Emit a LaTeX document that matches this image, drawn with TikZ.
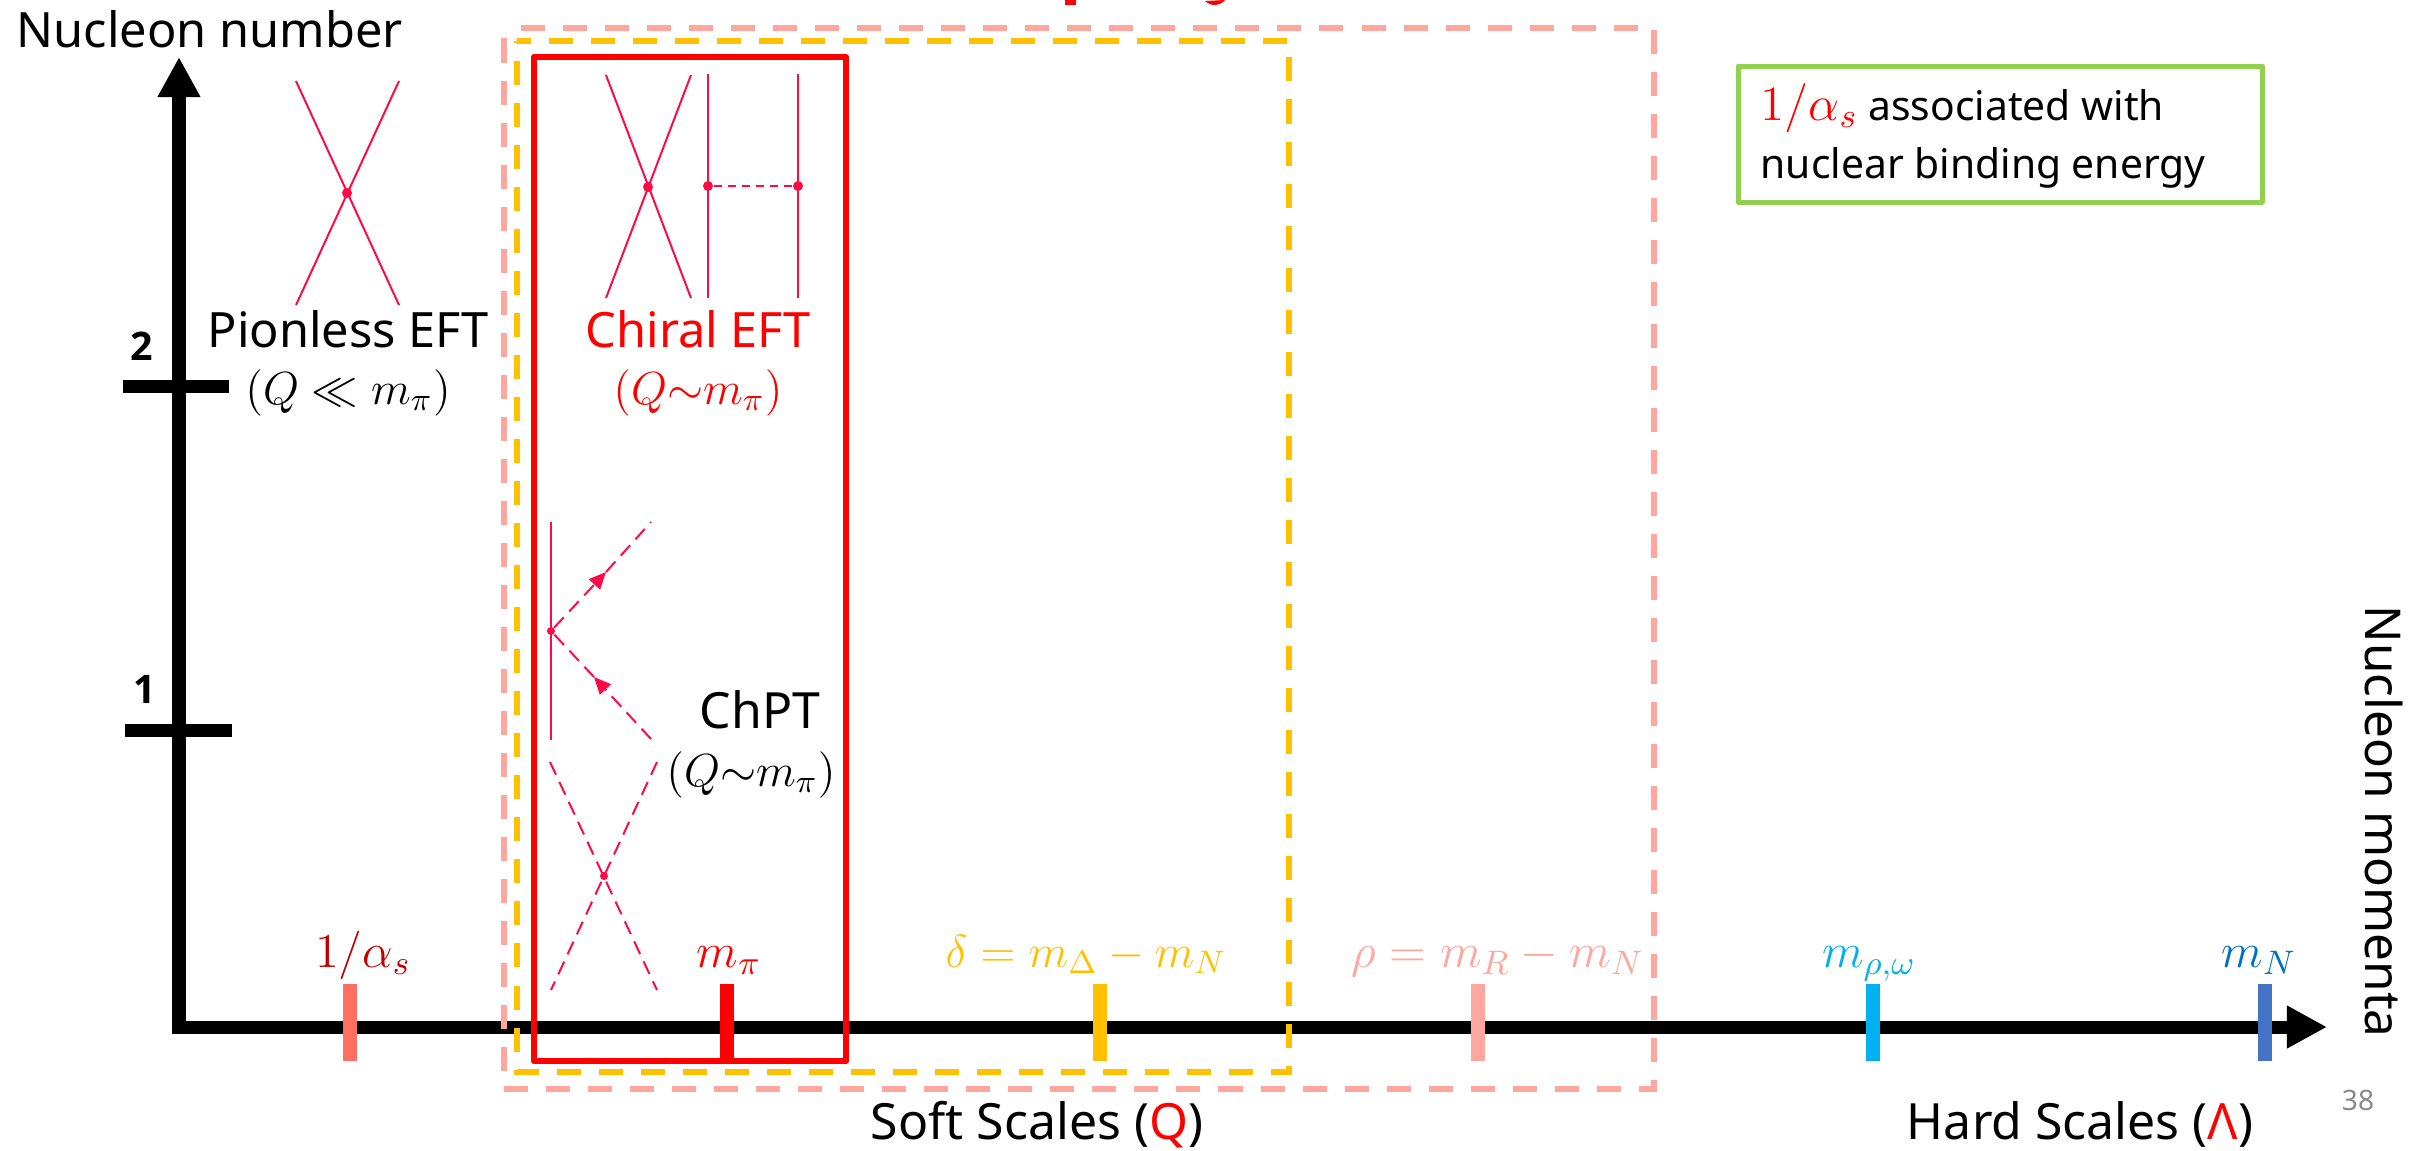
\RequirePackage{fix-cm}
\documentclass[tikz,border=0pt]{standalone}
\usepackage{amsmath}
\usepackage{fontspec}
\setmainfont{Noto Sans}
\newfontfamily\digitfamily{Open Sans}
\usetikzlibrary{arrows.meta}
\definecolor{scaleAlpha}{RGB}{192,0,0}
\definecolor{scaleAlphaTick}{RGB}{255,111,97}
\definecolor{scalePi}{RGB}{255,0,0}
\definecolor{scaleDelta}{RGB}{255,192,0}
\definecolor{scaleRho}{RGB}{255,167,159}
\definecolor{scaleVector}{RGB}{0,176,240}
\definecolor{scaleNucleon}{RGB}{0,112,192}
\definecolor{scaleNucleonTick}{RGB}{68,114,196}
\definecolor{feynLine}{RGB}{255,10,70}
\definecolor{noteEdge}{RGB}{146,208,80}
\definecolor{pageNum}{RGB}{137,137,137}
\newcommand{\bigfont}{\fontsize{14.2pt}{17pt}\selectfont}
\newcommand{\headfont}{\fontsize{13.85pt}{17pt}\selectfont}
\newcommand{\mathfont}{\fontsize{13.8pt}{17pt}\selectfont}
\newcommand{\rangefont}{\fontsize{13.2pt}{17pt}\selectfont}
\newcommand{\digitfont}{\digitfamily\bfseries\fontsize{11.2pt}{13pt}\selectfont}
\tikzset{
  % axes and their ticks; one unit of the picture is one pixel of the page
  axis/.style={line width=0.13cm, -{Triangle[length=0.4cm,width=0.4cm]}},
  hmark/.style={line width=0.13cm},
  vmark/.style={line width=0.14cm},
  % the nested frames of the effective theories
  theoryframe/.style={line width=0.06cm, dash pattern=on 0.24cm off 0.18cm},
  solidframe/.style={line width=0.065cm, line join=round},
  % small Feynman graphs
  fermion/.style={draw=feynLine, line width=0.02cm},
  pion/.style={draw=feynLine, line width=0.02cm, dash pattern=on 0.14cm off 0.08cm},
  exchange/.style={draw=feynLine, line width=0.02cm, dash pattern=on 0.08cm off 0.06cm},
  vertex/.style={circle, fill=feynLine, inner sep=0pt, minimum size=0.1cm},
  pionflow/.style={pion, -{Triangle[length=0.17cm,width=0.15cm]}},
  % text placed by its baseline
  lab/.style={inner sep=0pt, anchor=base, font=\bigfont},
  scalelab/.style={inner sep=0pt, anchor=base, font=\mathfont},
  rangelab/.style={inner sep=0pt, anchor=base, font=\rangefont},
  digit/.style={inner sep=0pt, anchor=base, font=\digitfont},
  note/.style={draw=noteEdge, line width=0.05cm, line join=round, anchor=north west,
    inner sep=0pt, minimum width=5.24cm, minimum height=1.36cm},
  notetext/.style={inner sep=0pt, anchor=base west, font=\fontsize{11.6pt}{16.5pt}\selectfont},
}
\begin{document}
\begin{tikzpicture}[x=0.01cm, y=-0.01cm]
\useasboundingbox (0,0) rectangle (2432,1150);

% ============================== axes =======================================
\coordinate (orig) at (172,1027);
\coordinate (ytip) at (179,57);
\coordinate (xtip) at (2327,1027);
\coordinate (ybase) at (179,1033);
\draw[axis] (ybase) -- (ytip);
\draw[axis] (orig) -- (xtip);

\coordinate (nA) at (125,730);
\coordinate (nB) at (232,730);
\coordinate (nC) at (123,386);
\coordinate (nD) at (229,386);
\draw[hmark] (nA) -- (nB);
\draw[hmark] (nC) -- (nD);
\node[digit] (onelab) at (145,703) {1};
\node[digit] (twolab) at (142,360) {2};

\node[lab, anchor=base west, font=\headfont] (ylab) at (16,47) {Nucleon number};
\node[lab, anchor=base west, rotate=-90, font=\fontsize{14.05pt}{17pt}\selectfont] (xlab) at (2365,605) {Nucleon momenta};

% ============================= scale ticks =================================
\coordinate (alphaT) at (350,984);
\coordinate (alphaB) at (350,1061);
\coordinate (piT) at (727,984);
\coordinate (piB) at (727,1061);
\coordinate (deltaT) at (1100,984);
\coordinate (deltaB) at (1100,1061);
\coordinate (rhoT) at (1478,984);
\coordinate (rhoB) at (1478,1061);
\coordinate (vecT) at (1873,984);
\coordinate (vecB) at (1873,1061);
\coordinate (nucT) at (2265,984);
\coordinate (nucB) at (2265,1061);
\draw[vmark, scaleAlphaTick] (alphaT) -- (alphaB);
\draw[vmark, scalePi] (piT) -- (piB);
\draw[vmark, scaleDelta] (deltaT) -- (deltaB);
\draw[vmark, scaleRho] (rhoT) -- (rhoB);
\draw[vmark, scaleVector] (vecT) -- (vecB);
\draw[vmark, scaleNucleonTick] (nucT) -- (nucB);

\node[scalelab, text=scaleAlpha] (alphalab) at (363,967) {$1/\alpha_s$};
\node[scalelab, text=scalePi] (pilab) at (729,967) {$m_\pi$};
\node[scalelab, text=scaleDelta, font=\rangefont] (deltalab) at (1086,967) {$\delta=m_\Delta-m_N$};
\node[scalelab, text=scaleRho] (rholab) at (1498,967) {$\rho=m_R-m_N$};
\node[scalelab, text=scaleVector] (veclab) at (1869,967) {$m_{\rho,\omega}$};
\node[scalelab, text=scaleNucleon] (nuclab) at (2259,967) {$m_N$};

\node[lab] (softlab) at (1037,1139) {Soft Scales ({\color{red}Q})};
\node[lab] (hardlab) at (2080,1139) {Hard Scales ({\color{red}Λ})};
\node[lab, font=\fontsize{8pt}{10pt}\selectfont, text=pageNum] (pagelab) at (2358,1110) {38};

% ============================ nested frames ================================
\draw[theoryframe, scaleRho, dash phase=0.25cm] (504,28) -- (1654,28) -- (1654,1089) -- (504,1089) -- cycle;
\draw[theoryframe, scaleDelta, dash phase=0.1cm] (517,41) -- (1289,41) -- (1289,1072) -- (517,1072) -- cycle;
\draw[solidframe, scalePi] (534,57) -- (846,57) -- (846,1061) -- (534,1061) -- cycle;

% what is left of the title, cut by the upper edge of the page
\fill[red] (1065,0) rectangle (1076,4.6);
\fill[red] (1205,1) .. controls (1212,7) and (1220,6) .. (1225,0) -- cycle;

% ============================= pionless EFT ================================
\node[vertex] (pless) at (347,193) {};
\coordinate (plessA) at (296,81);
\coordinate (plessB) at (399,81);
\coordinate (plessC) at (296,305);
\coordinate (plessD) at (399,305);
\draw[fermion] (plessA) -- (plessD);
\draw[fermion] (plessB) -- (plessC);
\node[lab, font=\headfont] (plesslab) at (348,347) {Pionless EFT};
\node[rangelab] (plessQ) at (348,404) {$(Q\ll m_\pi)$};

% ============================== chiral EFT =================================
\node[vertex] (cont) at (648,187) {};
\coordinate (contA) at (606,75);
\coordinate (contB) at (691,75);
\coordinate (contC) at (606,298);
\coordinate (contD) at (691,298);
\draw[fermion] (contA) -- (contD);
\draw[fermion] (contB) -- (contC);

\node[vertex] (opeL) at (708,186) {};
\node[vertex] (opeR) at (798,186) {};
\coordinate (opeLT) at (708,74);
\coordinate (opeLB) at (708,298);
\coordinate (opeRT) at (798,74);
\coordinate (opeRB) at (798,298);
\draw[fermion] (opeLT) -- (opeLB);
\draw[fermion] (opeRT) -- (opeRB);
\draw[exchange] (opeL) -- (opeR);

\node[lab, font=\headfont, text=red] (chirallab) at (698,347) {Chiral EFT};
\node[rangelab, text=red] (chiralQ) at (698,404) {$(Q{\sim}m_\pi)$};

% ================================= ChPT ====================================
\node[vertex, minimum size=0.08cm] (chvert) at (551,631) {};
\coordinate (chT) at (551,522);
\coordinate (chB) at (551,740);
\coordinate (chOut) at (651,522);
\coordinate (chOutMid) at (606,572);
\coordinate (chIn) at (651,739);
\coordinate (chInMid) at (594,677);
\draw[fermion] (chT) -- (chB);
\draw[pionflow] (chvert) -- (chOutMid);
\draw[pion] (chOutMid) -- (chOut);
\draw[pionflow] (chIn) -- (chInMid);
\draw[pion] (chInMid) -- (chvert);

\node[vertex, minimum size=0.08cm] (pipi) at (604,876) {};
\coordinate (pipiA) at (550,762);
\coordinate (pipiB) at (657,762);
\coordinate (pipiC) at (551,990);
\coordinate (pipiD) at (657,990);
\draw[pion] (pipiA) -- (pipiD);
\draw[pion] (pipiB) -- (pipiC);

\node[lab] (chptlab) at (760,728) {ChPT};
\node[rangelab] (chptQ) at (751,786) {$(Q{\sim}m_\pi)$};

% ================================= note ====================================
\node[note] (bindnote) at (1735.5,63.5) {};
\node[notetext] (notetop) at (1760,120)
      {{\color{red}\fontsize{14pt}{16pt}\selectfont$1/\alpha_s$} associated with};
\node[notetext] (notebot) at (1760,178) {nuclear binding energy};

\end{tikzpicture}
\end{document}
